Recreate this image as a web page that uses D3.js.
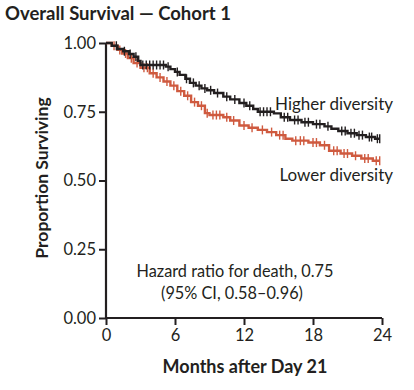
<!DOCTYPE html>
<html>
<head>
<meta charset="utf-8">
<script src="https://cdn.jsdelivr.net/npm/d3@7"></script>
<style>
  body { margin: 0; background: #fff; }
  text { font-family: Lato, "Open Sans", sans-serif; fill: #231f20; }
</style>
</head>
<body>
<div id="chart"></div>
<script>
// Kaplan-Meier step points
const higherTimes = [0, 0.5, 1.0, 1.5, 2.0, 2.4, 2.8, 3.0, 5.2, 5.6, 6.0, 6.4, 6.9, 7.3, 7.8, 8.3, 8.8, 9.4, 10.2, 10.8, 11.6, 12.2, 12.8, 13.2, 14.6, 15.2, 16.0, 17.0, 18.0, 19.0, 19.6, 20.2, 21.0, 21.8, 22.6, 23.4, 23.8];
const higherSurv  = [1.0, 0.99, 0.978, 0.97, 0.96, 0.95, 0.935, 0.92, 0.914, 0.905, 0.895, 0.884, 0.87, 0.855, 0.845, 0.835, 0.828, 0.818, 0.805, 0.795, 0.782, 0.772, 0.76, 0.75, 0.744, 0.73, 0.72, 0.712, 0.705, 0.697, 0.688, 0.68, 0.672, 0.665, 0.658, 0.652, 0.652];
const lowerTimes  = [0, 0.5, 1.0, 1.4, 1.9, 2.4, 3.0, 3.8, 4.4, 5.0, 5.6, 6.2, 6.8, 7.4, 8.0, 8.6, 9.0, 10.2, 10.8, 11.6, 12.4, 13.2, 14.0, 14.8, 15.6, 16.2, 17.6, 18.6, 19.4, 20.4, 21.4, 22.2, 23.2, 23.8];
const lowerSurv   = [1.0, 0.99, 0.975, 0.962, 0.945, 0.927, 0.91, 0.89, 0.875, 0.86, 0.845, 0.825, 0.808, 0.785, 0.772, 0.745, 0.738, 0.73, 0.718, 0.70, 0.692, 0.684, 0.676, 0.665, 0.652, 0.645, 0.638, 0.628, 0.608, 0.598, 0.59, 0.58, 0.572, 0.572];

// censoring marks (months)
const higherCensor = [0.9, 1.6, 2.1, 2.6, 3.2, 3.5, 3.8, 4.1, 4.4, 4.7, 5.0, 5.4, 6.2, 7.0, 7.6, 8.1, 8.6, 9.1, 9.7, 10.5, 11.2, 12.0, 12.5, 13.4, 13.7, 14.0, 14.3, 15.5, 15.8, 16.4, 16.7, 17.3, 17.6, 18.3, 18.6, 19.3, 20.5, 20.8, 21.3, 21.6, 22.0, 22.3, 22.9, 23.1, 23.6, 23.8];
const lowerCensor  = [0.7, 1.2, 1.7, 2.2, 2.7, 3.3, 3.6, 4.1, 4.7, 5.3, 5.9, 6.5, 7.1, 7.7, 8.3, 8.8, 9.3, 9.6, 9.9, 10.5, 11.1, 12.0, 12.7, 13.6, 14.4, 15.1, 15.4, 16.5, 16.9, 17.2, 18.0, 18.3, 19.0, 19.8, 20.1, 20.7, 21.0, 21.7, 22.5, 22.8, 23.5, 23.8];

const xTicks = [0, 6, 12, 18, 24];
const yTicks = [0, 0.25, 0.5, 0.75, 1.0];

const width = 414, height = 390;
const margin = {top: 43, right: 32, bottom: 72, left: 106};

const svg = d3.select("#chart").append("svg")
    .attr("width", width)
    .attr("height", height);

const x = d3.scaleLinear().domain([0, 24]).range([margin.left, width - margin.right]);
const y = d3.scaleLinear().domain([0, 1]).range([height - margin.bottom, margin.top]);

// title
svg.append("text")
    .attr("x", 5).attr("y", 20)
    .style("font-size", "18.5px").style("font-weight", "bold")
    .text("Overall Survival \u2014 Cohort 1");

// axes
const xAxis = svg.append("g")
    .attr("transform", `translate(0,${y(0)})`)
    .call(d3.axisBottom(x).tickValues(xTicks).tickSize(7).tickPadding(4).tickFormat(d3.format("d")));
const yAxis = svg.append("g")
    .attr("transform", `translate(${x(0)},0)`)
    .call(d3.axisLeft(y).tickValues(yTicks).tickSize(7).tickPadding(3).tickFormat(d3.format(".2f")));

[xAxis, yAxis].forEach(g => {
  g.select(".domain").attr("stroke", "#231f20").attr("stroke-width", 2.2);
  g.selectAll(".tick line").attr("stroke", "#231f20").attr("stroke-width", 2);
  g.selectAll(".tick text").style("font-size", "16.5px").style("font-family", "Lato, sans-serif").attr("fill", "#231f20");
});
// remove outer tick stubs from domain path
xAxis.select(".domain").attr("d", `M${x(0)},0H${x(24)}`);
yAxis.select(".domain").attr("d", `M0,${y(0) + 1}V${y(1)}`);

// axis titles
svg.append("text")
    .attr("x", 245).attr("y", 373)
    .attr("text-anchor", "middle")
    .style("font-size", "18px").style("font-weight", "bold")
    .text("Months after Day 21");
svg.append("text")
    .attr("transform", "translate(48,178) rotate(-90)")
    .attr("text-anchor", "middle")
    .style("font-size", "17.5px").style("font-weight", "bold")
    .text("Proportion Surviving");

function stepAt(times, surv, t) {
  const i = d3.bisectRight(times, t) - 1;
  return surv[Math.max(0, i)];
}

const line = d3.line().curve(d3.curveStepAfter).x(d => x(d[0])).y(d => y(d[1]));

const series = [
  {times: higherTimes, surv: higherSurv, censor: higherCensor, color: "#231f20"},
  {times: lowerTimes, surv: lowerSurv, censor: lowerCensor, color: "#cf5a3f"}
];

// draw lower first so black sits on top
series.slice().reverse().forEach(s => {
  const pts = s.times.map((t, i) => [t, s.surv[i]]);
  svg.append("path")
      .datum(pts)
      .attr("fill", "none")
      .attr("stroke", s.color)
      .attr("stroke-width", 2.4)
      .attr("d", line);
  svg.selectAll(null)
      .data(s.censor)
      .enter().append("line")
      .attr("x1", d => x(d)).attr("x2", d => x(d))
      .attr("y1", d => y(stepAt(s.times, s.surv, d)) - 4.5)
      .attr("y2", d => y(stepAt(s.times, s.surv, d)) + 4.5)
      .attr("stroke", s.color)
      .attr("stroke-width", 1.4);
});

// curve labels
svg.append("text")
    .attr("x", 393).attr("y", 110)
    .attr("text-anchor", "end")
    .style("font-size", "17px")
    .text("Higher diversity");
svg.append("text")
    .attr("x", 393).attr("y", 181)
    .attr("text-anchor", "end")
    .style("font-size", "17px")
    .text("Lower diversity");

// hazard ratio annotation
svg.append("text")
    .attr("x", 235).attr("y", 277)
    .attr("text-anchor", "middle")
    .style("font-size", "16.3px")
    .text("Hazard ratio for death, 0.75");
svg.append("text")
    .attr("x", 232).attr("y", 299)
    .attr("text-anchor", "middle")
    .style("font-size", "16.3px")
    .text("(95% CI, 0.58\u20130.96)");
</script>
</body>
</html>
